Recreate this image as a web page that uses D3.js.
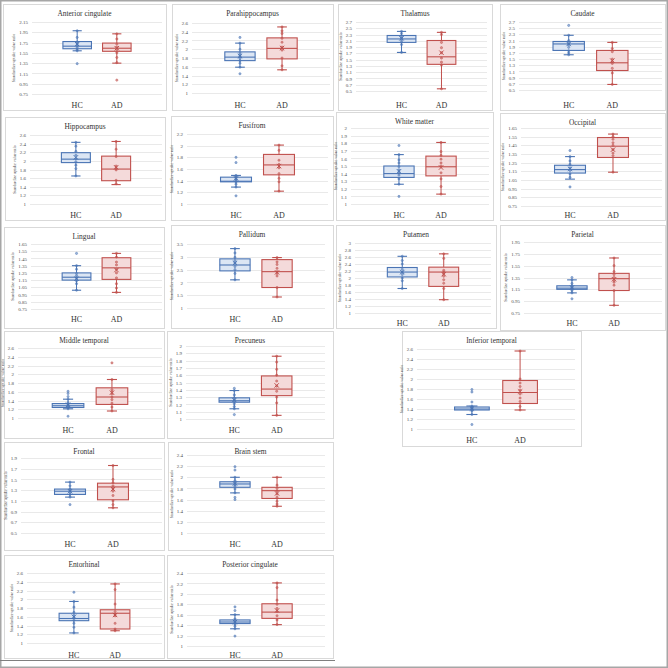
<!DOCTYPE html>
<html>
<head>
<meta charset="utf-8">
<script src="https://cdn.jsdelivr.net/npm/d3@7"></script>
<style>
  html, body { margin: 0; padding: 0; background: #fff; }
  svg { display: block; }
  text { font-family: "Liberation Serif", "DejaVu Serif", serif; }
</style>
</head>
<body>
<svg id="chart" width="668" height="668"></svg>
<script>
// ---------------- DATA ----------------
const regions = ["Anterior cingulate","Parahippocampus","Thalamus","Caudate",
  "Hippocampus","Fusifrom","White matter","Occipital",
  "Lingual","Pallidum","Putamen","Parietal",
  "Middle temporal","Precuneus","Inferior temporal",
  "Frontal","Brain stem","Entorhinal","Posterior cingulate"];
const groups = ["HC", "AD"];
const yAxisTitle = "Standardize uptake value ratio";

// y-axis range: [min, max, step]
const yRanges = [
  [0.75,2.15,0.2],[1,2.6,0.2],[0.5,2.7,0.2],[0.5,2.7,0.2],
  [1,2.6,0.2],[1,2.2,0.2],[1,2,0.1],[0.75,1.65,0.1],
  [0.75,1.65,0.1],[1,3.5,0.5],[1,3,0.2],[0.75,1.95,0.2],
  [1,2.6,0.2],[1,2,0.1],[1,2.6,0.2],
  [0.5,1.9,0.2],[1,2.4,0.2],[1,2.6,0.2],[1,2.4,0.2]];

// box stats: [whiskerLow, Q1, median, Q3, whiskerHigh, mean]
const hcStats = [
  [1.59,1.63,1.68,1.77,1.98,1.72],[1.59,1.74,1.82,1.94,2.14,1.85],[1.73,2.05,2.16,2.27,2.40,2.18],[1.64,1.78,1.99,2.07,2.27,1.99],
  [1.65,1.96,2.04,2.19,2.43,2.08],[1.29,1.38,1.39,1.46,1.49,1.44],[1.26,1.35,1.40,1.50,1.65,1.43],[1.06,1.13,1.17,1.22,1.32,1.18],
  [1.01,1.15,1.19,1.25,1.35,1.17],[2.10,2.45,2.68,2.92,3.32,2.75],[1.70,2.03,2.17,2.30,2.62,2.17],[1.09,1.15,1.17,1.21,1.31,1.18],
  [1.21,1.24,1.28,1.33,1.43,1.30],[1.14,1.23,1.25,1.29,1.39,1.26],[1.29,1.38,1.40,1.44,1.46,1.41],
  [1.17,1.22,1.28,1.32,1.45,1.28],[1.72,1.82,1.88,1.92,2.00,1.89],[1.23,1.51,1.56,1.68,1.95,1.60],[1.33,1.43,1.46,1.50,1.60,1.46]];
const adStats = [
  [1.35,1.58,1.64,1.74,1.92,1.64],[1.53,1.78,2.02,2.26,2.51,2.03],[0.57,1.35,1.59,2.11,2.37,1.72],[0.68,1.13,1.38,1.78,2.04,1.45],
  [1.45,1.54,1.81,2.11,2.45,1.85],[1.22,1.50,1.67,1.85,2.01,1.65],[1.13,1.37,1.49,1.63,1.81,1.48],[1.14,1.31,1.44,1.54,1.58,1.40],
  [0.98,1.16,1.32,1.46,1.52,1.29],[1.43,1.80,2.42,2.89,2.97,2.39],[1.38,1.76,2.17,2.31,2.69,2.11],[0.88,1.13,1.33,1.42,1.68,1.32],
  [1.16,1.31,1.48,1.69,1.88,1.58],[1.05,1.32,1.41,1.59,1.86,1.46],[1.38,1.51,1.73,1.97,2.56,1.75],
  [0.97,1.12,1.36,1.43,1.76,1.32],[1.48,1.62,1.76,1.82,2.00,1.71],[1.28,1.32,1.68,1.76,2.35,1.64],[1.41,1.53,1.65,1.81,2.21,1.68]];

// individual data points (inner points and outliers)
const hcPoints = [
  [1.98,1.85,1.76,1.73,1.70,1.66,1.62,1.59,1.34],
  [2.27,2.14,2.00,1.92,1.87,1.83,1.79,1.74,1.68,1.59,1.44],
  [2.40,2.33,2.24,2.19,2.13,2.06,1.98,1.73],
  [2.59,2.27,2.10,2.01,1.97,1.88,1.77,1.70,1.64],
  [2.43,2.34,2.22,2.13,2.05,1.98,1.90,1.82,1.65],
  [1.80,1.71,1.49,1.46,1.43,1.41,1.38,1.34,1.29,1.14],
  [1.77,1.65,1.58,1.54,1.49,1.45,1.42,1.38,1.33,1.26,1.10],
  [1.39,1.32,1.27,1.23,1.19,1.16,1.12,1.08,0.97],
  [1.52,1.35,1.30,1.24,1.21,1.18,1.14,1.10,1.01],
  [3.32,3.15,2.98,2.85,2.75,2.62,2.50,2.35,2.10],
  [2.62,2.50,2.40,2.25,2.17,2.10,2.00,1.92,1.70],
  [1.35,1.31,1.25,1.21,1.18,1.16,1.13,1.09,0.99],
  [1.61,1.56,1.49,1.43,1.35,1.31,1.28,1.25,1.21,1.04],
  [1.42,1.39,1.33,1.29,1.26,1.24,1.21,1.17,1.14,1.06],
  [1.79,1.74,1.54,1.46,1.43,1.41,1.39,1.36,1.29,1.09],
  [1.45,1.38,1.32,1.29,1.26,1.22,1.17,1.03],
  [2.19,2.13,2.00,1.94,1.90,1.87,1.84,1.79,1.72,1.64,1.60],
  [2.16,1.95,1.82,1.70,1.63,1.58,1.52,1.45,1.36,1.23],
  [1.75,1.68,1.60,1.52,1.48,1.45,1.42,1.38,1.33,1.19]];
const adPoints = [
  [1.92,1.82,1.72,1.66,1.61,1.55,1.46,1.36,1.02],
  [2.51,2.42,2.36,2.25,2.16,2.05,1.98,1.80,1.62,1.53],
  [2.37,2.30,2.05,1.88,1.72,1.55,1.42,1.33,0.57],
  [2.04,1.84,1.74,1.50,1.42,1.36,1.20,1.05,0.68],
  [2.45,2.27,2.10,1.88,1.83,1.79,1.55,1.47],
  [2.01,1.92,1.75,1.68,1.62,1.52,1.44,1.38,1.22],
  [1.81,1.69,1.64,1.59,1.54,1.50,1.41,1.33,1.23,1.13],
  [1.58,1.55,1.52,1.48,1.45,1.40,1.36,1.33,1.14],
  [1.52,1.47,1.40,1.36,1.30,1.25,1.18,1.10,1.04,0.98],
  [2.97,2.80,2.70,2.55,2.42,2.35,2.25,1.80,1.43],
  [2.69,2.56,2.22,2.17,2.12,2.05,1.95,1.85,1.70,1.38],
  [1.68,1.55,1.45,1.40,1.35,1.30,1.27,1.22,1.13,0.88],
  [2.26,1.88,1.65,1.60,1.55,1.48,1.42,1.34,1.25,1.16],
  [1.86,1.78,1.68,1.60,1.52,1.45,1.38,1.30,1.22,1.05],
  [2.56,2.00,1.92,1.85,1.78,1.70,1.62,1.55,1.45,1.38],
  [1.76,1.50,1.44,1.38,1.33,1.28,1.20,1.10,1.03,0.97],
  [2.00,1.86,1.80,1.75,1.70,1.64,1.57,1.52,1.48],
  [2.35,2.22,1.89,1.72,1.66,1.62,1.45,1.32,1.28],
  [2.21,2.12,1.88,1.80,1.72,1.66,1.58,1.50,1.41]];

// ---------------- LAYOUT (positions only) ----------------
// [panelX0, panelY0, panelX1, panelY1, plotL, plotT, plotR, plotB, catLabelY]
const layout = [
  [3,4,166,110, 32,22,162,94, 105],
  [172,4,333,110, 192,23,330,93, 105],
  [338,4,492,110, 356,22,487,91, 105],
  [500,4,665,110, 519,22,662,90, 105],
  [5,117,165,220, 30,135,162,204, 215],
  [171,116,333,220, 187,134,328,204, 215],
  [336,112,493,220, 351,128,489,204, 215],
  [500,113,665,220, 521,128,662,206, 215],
  [4,227,164,328, 31,244,162,309, 319],
  [171,225,333,328, 187,244,325,308, 319],
  [336,225,496,328, 355,243,491,313, 323],
  [500,225,665,330, 524,242,662,313, 323],
  [4,331,164,438, 18,348,162,418, 430],
  [167,331,333,438, 186,346,325,419, 430],
  [402,331,581,446, 417,349,575,429, 440],
  [4,442,164,550, 21,458,162,533, 544],
  [168,442,333,550, 187,455,325,533, 544],
  [4,555,164,658, 27,573,162,643, 655],
  [167,555,333,658, 187,573,325,646, 655]];

const strokeCol = { HC: "#4a74b4", AD: "#c0504d" };
const fillCol   = { HC: "#dce6f4", AD: "#f4dada" };

const svg = d3.select("#chart");
svg.append("rect").attr("x",0).attr("y",0).attr("width",668).attr("height",668).attr("fill","#fff");

const fmt = v => String(+v.toFixed(2));

regions.forEach((name, i) => {
  const [x0,y0,x1,y1,pl,pt,pr,pb,cy] = layout[i];
  const [ymin, ymax, step] = yRanges[i];
  const g = svg.append("g");

  g.append("rect").attr("x",x0+0.5).attr("y",y0+0.5).attr("width",x1-x0).attr("height",y1-y0)
    .attr("fill","#fff").attr("stroke","#d9d9d9").attr("stroke-width",1);

  g.append("text").attr("x",(x0+x1)/2).attr("y",y0+12).attr("text-anchor","middle")
    .attr("font-size",7.4).attr("fill","#333").text(name);

  const y = d3.scaleLinear().domain([ymin, ymax]).range([pb, pt]);
  const ticks = d3.range(ymin, ymax + step/2, step).map(v => +v.toFixed(2));
  const x = d3.scaleBand().domain(groups).range([pl, pr]).paddingOuter(0.78).paddingInner(0.28);

  // gridlines
  g.append("g").selectAll("line").data(ticks).join("line")
    .attr("x1",pl).attr("x2",pr).attr("y1",d=>Math.round(y(d))+0.5).attr("y2",d=>Math.round(y(d))+0.5)
    .attr("stroke","#e3e3e3").attr("stroke-width",0.8);

  // y axis labels via d3 axis
  const ax = g.append("g").attr("transform",`translate(${pl},0)`)
    .call(d3.axisLeft(y).tickValues(ticks).tickFormat(fmt).tickSize(0).tickPadding(4));
  ax.select(".domain").remove();
  ax.selectAll("text").attr("font-size",5).attr("fill","#4d4d4d").attr("font-family","Liberation Serif, serif");
  let maxW = 0;
  ax.selectAll("text").each(function(){ maxW = Math.max(maxW, this.getComputedTextLength()); });

  g.append("text").attr("transform",`translate(${pl-4-maxW-4},${(pt+pb)/2}) rotate(-90)`)
    .attr("text-anchor","middle").attr("font-size",4).attr("fill","#444").text(yAxisTitle);

  // category labels
  g.selectAll("text.cat").data(groups).join("text").attr("class","cat")
    .attr("x",d=>x(d)+x.bandwidth()/2).attr("y",cy+3).attr("text-anchor","middle")
    .attr("font-size",8).attr("fill","#333").text(d=>d);

  const stats = { HC: hcStats[i], AD: adStats[i] };
  const pts = { HC: hcPoints[i], AD: adPoints[i] };

  groups.forEach(grp => {
    const [lo,q1,med,q3,hi,mean] = stats[grp];
    const bx = x(grp), bw = x.bandwidth(), cx = bx + bw/2;
    const col = strokeCol[grp];
    const cap = bw*0.32;
    const bg = g.append("g");
    // whiskers
    bg.append("line").attr("x1",cx).attr("x2",cx).attr("y1",y(hi)).attr("y2",y(q3)).attr("stroke",col).attr("stroke-width",1);
    bg.append("line").attr("x1",cx).attr("x2",cx).attr("y1",y(q1)).attr("y2",y(lo)).attr("stroke",col).attr("stroke-width",1);
    bg.append("line").attr("x1",cx-cap/2).attr("x2",cx+cap/2).attr("y1",y(hi)).attr("y2",y(hi)).attr("stroke",col).attr("stroke-width",1.1);
    bg.append("line").attr("x1",cx-cap/2).attr("x2",cx+cap/2).attr("y1",y(lo)).attr("y2",y(lo)).attr("stroke",col).attr("stroke-width",1.1);
    // box
    bg.append("rect").attr("x",bx).attr("y",y(q3)).attr("width",bw).attr("height",Math.max(0.5,y(q1)-y(q3)))
      .attr("fill",fillCol[grp]).attr("stroke",col).attr("stroke-width",1.1);
    bg.append("line").attr("x1",bx).attr("x2",bx+bw).attr("y1",y(med)).attr("y2",y(med)).attr("stroke",col).attr("stroke-width",1.1);
    // points
    bg.selectAll("circle").data(pts[grp]).join("circle")
      .attr("cx",cx).attr("cy",d=>y(d)).attr("r",1.1)
      .attr("fill",col).attr("fill-opacity",0.55).attr("stroke",col).attr("stroke-width",0.5);
    // mean marker (x)
    const m = 2.2, my = y(mean);
    bg.append("path").attr("d",`M${cx-m},${my-m}L${cx+m},${my+m}M${cx-m},${my+m}L${cx+m},${my-m}`)
      .attr("stroke",col).attr("stroke-width",1);
  });
});

// outer frame
svg.append("rect").attr("x",0.75).attr("y",0.75).attr("width",666.5).attr("height",666.5)
  .attr("fill","none").attr("stroke","#a6a6a6").attr("stroke-width",1.5);
svg.append("line").attr("x1",0).attr("x2",335).attr("y1",660.5).attr("y2",660.5).attr("stroke","#7f7f7f").attr("stroke-width",1);
</script>
</body>
</html>
